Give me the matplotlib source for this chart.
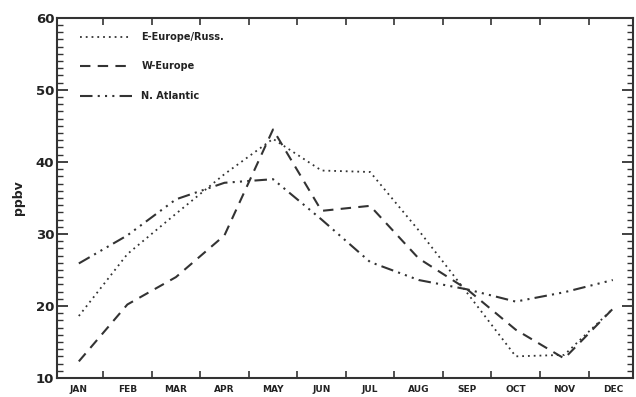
import matplotlib
matplotlib.use('Agg')
import matplotlib.pyplot as plt
from matplotlib.ticker import MultipleLocator, FixedLocator

months = ['JAN', 'FEB', 'MAR', 'APR', 'MAY', 'JUN',
          'JUL', 'AUG', 'SEP', 'OCT', 'NOV', 'DEC']

# monthly mean mixing ratios (ppbv)
e_europe = [18.6, 27.2, 32.8, 38.3, 43.2, 38.8, 38.6, 30.5, 21.8, 13.0, 13.2, 19.6]
w_europe = [12.3, 20.2, 24.0, 29.8, 44.5, 33.2, 33.9, 26.6, 22.3, 16.7, 12.7, 19.6]
n_atlantic = [25.9, 29.8, 34.8, 37.1, 37.6, 32.0, 26.1, 23.6, 22.3, 20.6, 21.9, 23.6]

ink = '#333333'

fig = plt.figure(figsize=(6.36, 3.97), dpi=100)
ax = fig.add_axes([0.0896, 0.048, 0.906, 0.907])

x = list(range(len(months)))
ax.plot(x, e_europe, color=ink, lw=1.3, linestyle=(0, (1, 2.2)),
        label='E-Europe/Russ.')
ax.plot(x, w_europe, color=ink, lw=1.5, linestyle=(0, (5, 3.5)),
        label='W-Europe')
ax.plot(x, n_atlantic, color=ink, lw=1.5,
        linestyle=(0, (6, 2.5, 1, 2.5, 1, 2.5, 1, 2.5)),
        label='N. Atlantic')

ax.set_xlim(-0.45, 11.42)
ax.set_ylim(10, 60)

ax.xaxis.set_major_locator(FixedLocator([i + 0.5 for i in range(11)]))
ax.xaxis.set_minor_locator(FixedLocator(x))
ax.set_xticklabels([])
ax.set_xticklabels(months, minor=True)
ax.tick_params(axis='x', which='major', direction='in', length=5,
               width=1.2, color=ink, top=True, bottom=True)
ax.tick_params(axis='x', which='minor', length=0, pad=5, labelsize=6.5,
               labelcolor='#222222')
for lab in ax.get_xticklabels(minor=True):
    lab.set_fontweight('bold')

ax.yaxis.set_major_locator(MultipleLocator(10))
ax.yaxis.set_minor_locator(MultipleLocator(1))
ax.tick_params(axis='y', which='major', direction='in', length=8,
               width=1.3, color=ink, left=True, right=True,
               labelsize=9.5, labelcolor='#222222', pad=2)
ax.tick_params(axis='y', which='minor', direction='in', length=4,
               width=1.0, color=ink, left=True, right=True)
for lab in ax.get_yticklabels():
    lab.set_fontweight('bold')

for sp in ax.spines.values():
    sp.set_color(ink)
    sp.set_linewidth(1.5)

ax.set_ylabel('ppbv', fontsize=9, fontweight='bold', color='#222222',
              labelpad=8)

leg = ax.legend(loc='upper left', frameon=False, handlelength=5.3,
                handletextpad=1.0, labelspacing=2.0,
                bbox_to_anchor=(0.025, 0.985),
                prop={'size': 7, 'weight': 'bold'})
for t in leg.get_texts():
    t.set_color('#222222')

fig.savefig('out.png', dpi=100)
